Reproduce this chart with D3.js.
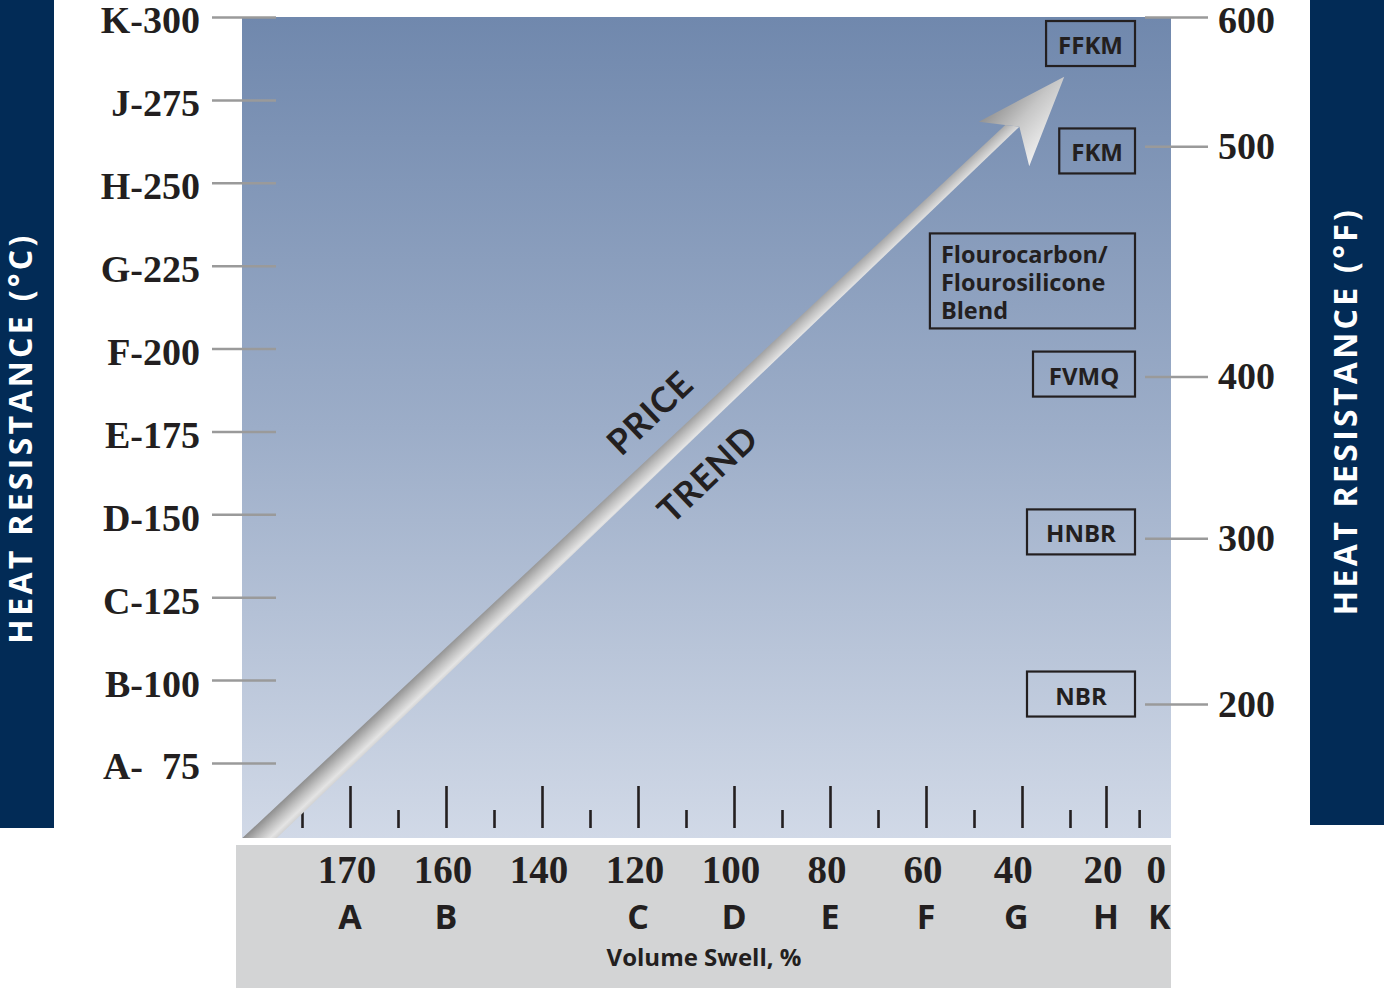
<!DOCTYPE html>
<html><head><meta charset="utf-8">
<script src="https://cdn.jsdelivr.net/npm/d3@7"></script>
<style>html,body{margin:0;padding:0;background:#fff;} svg{display:block}</style>
</head><body>
<svg id="chart" width="1384" height="988"></svg>
<script>
// ---------------- data ----------------
const celsiusValues = [300, 275, 250, 225, 200, 175, 150, 125, 100, 75];
const celsiusLabels = ["K-300", "J-275", "H-250", "G-225", "F-200", "E-175", "D-150", "C-125", "B-100", "A-\u00a0\u00a075"];
const fahrenheitLabels = ["600", "500", "400", "300", "200"];
const fahrenheitPosC = [300, 261, 191.6, 142.8, 92.8];   // where each °F tick sits on the °C scale
const materials = ["FFKM", "FKM", "Flourocarbon/\nFlourosilicone\nBlend", "FVMQ", "HNBR", "NBR"];
const materialPosC = [292, 259.6, 220.4, 192.3, 144.7, 95.8];
const swellValues = ["170", "160", "140", "120", "100", "80", "60", "40", "20", "0"];
const swellGrades = ["A", "B", "", "C", "D", "E", "F", "G", "H", "K"];
const swellSlots = [0, 1, 2, 3, 4, 5, 6, 6.94, 7.875, 8.43];
const majorTickSlots = [0, 1, 2, 3, 4, 5, 6, 7, 7.875];
const minorTickSlots = [-0.5, 0.5, 1.5, 2.5, 3.5, 4.5, 5.5, 6.5, 7.5, 8.22];
const trendFrom = {slot: -0.94, c: 52.4};
const trendTo = {slot: 7.44, c: 282};
const trendWords = ["PRICE", "TREND"];

// ---------------- layout ----------------
const svg = d3.select("#chart");
const plot = {x0: 242, x1: 1171, y0: 17, y1: 838};
const yC = d3.scaleLinear().domain([75, 300]).range([763, 17]);
const xS = d3.scaleLinear().domain([0, 7]).range([350, 1022]);
const ink = "#231f20";
const navy = "#022b56";
const serif = "'Liberation Serif', 'Times New Roman', serif";
const sans = "'Open Sans', 'Noto Sans', sans-serif";

const defs = svg.append("defs");
const bg = defs.append("linearGradient").attr("id", "bg").attr("x1", 0).attr("y1", 0).attr("x2", 0).attr("y2", 1);
bg.append("stop").attr("offset", 0).attr("stop-color", "#7088ad");
bg.append("stop").attr("offset", 0.5).attr("stop-color", "#9cadc8");
bg.append("stop").attr("offset", 1).attr("stop-color", "#d1d9e7");
defs.append("clipPath").attr("id", "plotClip").append("rect")
  .attr("x", plot.x0).attr("y", plot.y0).attr("width", plot.x1 - plot.x0).attr("height", plot.y1 - plot.y0);

// side bars
svg.append("rect").attr("x", 0).attr("y", 0).attr("width", 54).attr("height", 828).attr("fill", navy);
svg.append("rect").attr("x", 1310).attr("y", 0).attr("width", 74).attr("height", 825).attr("fill", navy);
svg.append("text").attr("transform", "translate(32,438) rotate(-90)")
  .attr("text-anchor", "middle").attr("fill", "#fff").attr("font-family", sans).attr("font-weight", 700)
  .attr("font-size", 32).attr("letter-spacing", 3.3).text("HEAT RESISTANCE (°C)");
svg.append("text").attr("transform", "translate(1357,411) rotate(-90)")
  .attr("text-anchor", "middle").attr("fill", "#fff").attr("font-family", sans).attr("font-weight", 700)
  .attr("font-size", 32).attr("letter-spacing", 3.3).text("HEAT RESISTANCE (°F)");

// plot background and bottom panel
svg.append("rect").attr("x", plot.x0).attr("y", plot.y0).attr("width", plot.x1 - plot.x0)
  .attr("height", plot.y1 - plot.y0).attr("fill", "url(#bg)");
svg.append("rect").attr("x", 236).attr("y", 845).attr("width", plot.x1 - 236).attr("height", 988 - 845).attr("fill", "#d3d4d5");

// left axis (°C)
const leftAxis = svg.append("g").attr("transform", "translate(276,0)")
  .call(d3.axisLeft(yC).tickValues(celsiusValues).tickSize(64).tickPadding(12)
    .tickFormat((d, i) => celsiusLabels[i]));
leftAxis.select(".domain").remove();
leftAxis.selectAll(".tick line").attr("stroke", "#9a9a9a").attr("stroke-width", 2.5);
leftAxis.selectAll(".tick text").attr("fill", ink).attr("font-family", serif).attr("font-weight", 700)
  .attr("font-size", 38).attr("dy", "0.42em").style("white-space", "pre");

// right axis (°F)
const rightAxis = svg.append("g").attr("transform", "translate(1145,0)")
  .call(d3.axisRight(yC).tickValues(fahrenheitPosC).tickSize(63).tickPadding(10)
    .tickFormat((d, i) => fahrenheitLabels[i]));
rightAxis.select(".domain").remove();
rightAxis.selectAll(".tick line").attr("stroke", "#9a9a9a").attr("stroke-width", 2.5);
rightAxis.selectAll(".tick text").attr("fill", ink).attr("font-family", serif).attr("font-weight", 700)
  .attr("font-size", 38).attr("dy", (d, i) => i === 0 ? "0.4em" : "0.33em");

// bottom ticks inside plot
const majAxis = svg.append("g").attr("transform", "translate(0,828)")
  .call(d3.axisTop(xS).tickValues(majorTickSlots).tickSize(42).tickFormat(""));
const minAxis = svg.append("g").attr("transform", "translate(0,828)")
  .call(d3.axisTop(xS).tickValues(minorTickSlots).tickSize(18).tickFormat(""));
[majAxis, minAxis].forEach(g => {
  g.select(".domain").remove();
  g.selectAll(".tick line").attr("stroke", ink).attr("stroke-width", 2.6);
});

// bottom labels
svg.append("g").selectAll("text").data(swellValues).join("text")
  .attr("x", (d, i) => xS(swellSlots[i]) - 3).attr("y", 883).attr("text-anchor", "middle")
  .attr("fill", ink).attr("font-family", serif).attr("font-weight", 700).attr("font-size", 39).text(d => d);
svg.append("g").selectAll("text").data(swellGrades).join("text")
  .attr("x", (d, i) => xS(swellSlots[i])).attr("y", 929).attr("text-anchor", "middle")
  .attr("fill", ink).attr("font-family", sans).attr("font-weight", 700).attr("font-size", 34).text(d => d);
svg.append("text").attr("x", 704).attr("y", 966).attr("text-anchor", "middle")
  .attr("fill", ink).attr("font-family", sans).attr("font-weight", 700).attr("font-size", 24).text("Volume Swell, %");

// price trend arrow
const P0 = [xS(trendFrom.slot), yC(trendFrom.c)], P1 = [xS(trendTo.slot), yC(trendTo.c)];
const L = Math.hypot(P1[0] - P0[0], P1[1] - P0[1]);
const u = [(P1[0] - P0[0]) / L, (P1[1] - P0[1]) / L];
const n = [-u[1], u[0]];
const pt = (a, b) => [P1[0] + u[0] * a + n[0] * b, P1[1] + u[1] * a + n[1] * b];
const ang = Math.atan2(u[1], u[0]) * 180 / Math.PI;

const sg = defs.append("linearGradient").attr("id", "shaftG").attr("gradientUnits", "userSpaceOnUse")
  .attr("x1", pt(-L, -12)[0]).attr("y1", pt(-L, -12)[1]).attr("x2", pt(-L, 12)[0]).attr("y2", pt(-L, 12)[1]);
[[0, "#8c8c8c"], [0.45, "#c0c0c0"], [0.8, "#e4e4e4"], [1, "#d0d0d0"]].forEach(s =>
  sg.append("stop").attr("offset", s[0]).attr("stop-color", s[1]));
const hg = defs.append("linearGradient").attr("id", "headG").attr("gradientUnits", "userSpaceOnUse")
  .attr("x1", pt(-93, -26)[0]).attr("y1", pt(-93, -26)[1]).attr("x2", pt(-87, 41)[0]).attr("y2", pt(-87, 41)[1]);
[[0, "#929292"], [0.45, "#c6c6c6"], [1, "#f0f0f0"]].forEach(s =>
  hg.append("stop").attr("offset", s[0]).attr("stop-color", s[1]));

const arrowG = svg.append("g").attr("clip-path", "url(#plotClip)");
const line = d3.line();
arrowG.append("path").attr("fill", "url(#shaftG)")
  .attr("d", line([pt(-(L + 30), -12), pt(-76, -5.5), pt(-67, 5.5), pt(-(L + 30), 12)]) + "Z");
arrowG.append("path").attr("fill", "url(#headG)")
  .attr("d", line([pt(0, 0), pt(-93, -26), pt(-76, -5.5), pt(-67, 5.5), pt(-87, 41)]) + "Z");

svg.append("g").selectAll("text").data(trendWords).join("text")
  .attr("transform", (d, i) => { const p = pt(-532, i === 0 ? -42 : 42); return `translate(${p[0]},${p[1]}) rotate(${ang})`; })
  .attr("text-anchor", "middle").attr("dominant-baseline", "central")
  .attr("fill", ink).attr("font-family", "'Lato', sans-serif").attr("font-weight", 700)
  .attr("font-size", 35).attr("letter-spacing", 1).text(d => d);

// material boxes
const boxRight = 1135;
const minW = [0, 0, 0, 102, 108, 108];
const boxG = svg.append("g");
materials.forEach((m, i) => {
  const lines = m.split("\n");
  const g = boxG.append("g");
  const cy = yC(materialPosC[i]);
  const lh = 28;
  const h = lines.length === 1 ? 45 : 95;
  const fs = lines.length === 1 ? 24 : 23.5;
  const t = g.append("text").attr("fill", ink).attr("font-family", sans).attr("font-weight", 700).attr("font-size", fs);
  lines.forEach((ln, j) => t.append("tspan").attr("x", 0).attr("y", (j - (lines.length - 1) / 2) * lh)
    .attr("dominant-baseline", "central").text(ln));
  const bb = t.node().getBBox();
  const padL = lines.length === 1 ? 12 : 11;
  const padR = lines.length === 1 ? 12 : 27;
  const w = Math.max(bb.width + padL + padR, minW[i]);
  const left = boxRight - w;
  if (lines.length === 1) {
    t.attr("text-anchor", "middle");
    t.selectAll("tspan").attr("x", left + w / 2);
  } else {
    t.selectAll("tspan").attr("x", left + padL);
  }
  t.attr("transform", `translate(0,${cy + 1})`);
  g.insert("rect", "text").attr("x", left).attr("y", cy - h / 2).attr("width", w).attr("height", h)
    .attr("fill", "none").attr("stroke", ink).attr("stroke-width", 2.2);
});
</script>
</body></html>
